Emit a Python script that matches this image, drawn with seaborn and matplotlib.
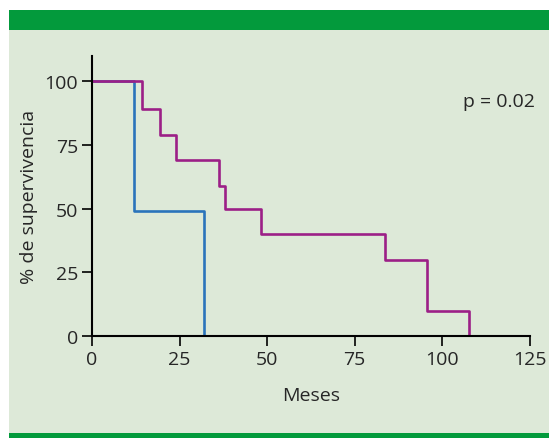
import numpy as np
import pandas as pd
import seaborn as sns
import matplotlib.pyplot as plt
from matplotlib.patches import Rectangle

# survival curves (months, % survival)
meses_a = [0, 12, 32]
superv_a = [100, 49, 0]
meses_b = [0, 14.2, 19.4, 24, 36.4, 38, 48.2, 83.7, 95.6, 107.6]
superv_b = [100, 89, 79, 69, 59, 50, 40, 30, 10, 0]

df = pd.concat([
    pd.DataFrame({'Meses': meses_a, 'sv': superv_a, 'grupo': 'A'}),
    pd.DataFrame({'Meses': meses_b, 'sv': superv_b, 'grupo': 'B'}),
])

sns.set_style('ticks')
plt.rcParams['font.family'] = ['Open Sans', 'DejaVu Sans']
txt = '#262626'
fs = 14

fig = plt.figure(figsize=(5.49, 4.39), dpi=100)
fig.patch.set_facecolor('white')
# panel background and green bars
fig.patches.append(Rectangle((9/549, 0), 1, 409/439, transform=fig.transFigure,
                             facecolor='#dde9d8', edgecolor='none', zorder=-3))
fig.patches.append(Rectangle((9/549, 1-30.5/439), 1, 20/439, transform=fig.transFigure,
                             facecolor='#039a3c', edgecolor='none', zorder=-2))
fig.patches.append(Rectangle((9/549, 0), 1, 5/439, transform=fig.transFigure,
                             facecolor='#039a3c', edgecolor='none', zorder=-2))

ax = fig.add_axes([92/549, 1-337/439, 437.5/549, 280/439])
ax.set_facecolor('none')
sns.lineplot(data=df, x='Meses', y='sv', hue='grupo', estimator=None,
             palette={'A': '#2a74bb', 'B': '#9c1f87'}, drawstyle='steps-post',
             linewidth=1.9, legend=False, ax=ax)

ax.set_xlim(0, 125)
ax.set_ylim(0, 110)
ax.set_xticks([0, 25, 50, 75, 100, 125])
ax.set_yticks([0, 25, 50, 75, 100])
for s in ['top', 'right']:
    ax.spines[s].set_visible(False)
for s in ['left', 'bottom']:
    ax.spines[s].set_linewidth(1.5)
    ax.spines[s].set_color('black')
ax.tick_params(length=7, width=1.2, labelsize=fs, colors=txt, pad=3)
ax.tick_params(color='black')
ax.set_xlabel('Meses', fontsize=fs, color=txt, labelpad=13)
ax.set_ylabel('% de supervivencia', fontsize=fs, color=txt, labelpad=5)
ax.text(1.0126, 0.838, 'p = 0.02', transform=ax.transAxes, ha='right', va='center',
        fontsize=fs, color=txt)

plt.savefig('out.png', dpi=100)
